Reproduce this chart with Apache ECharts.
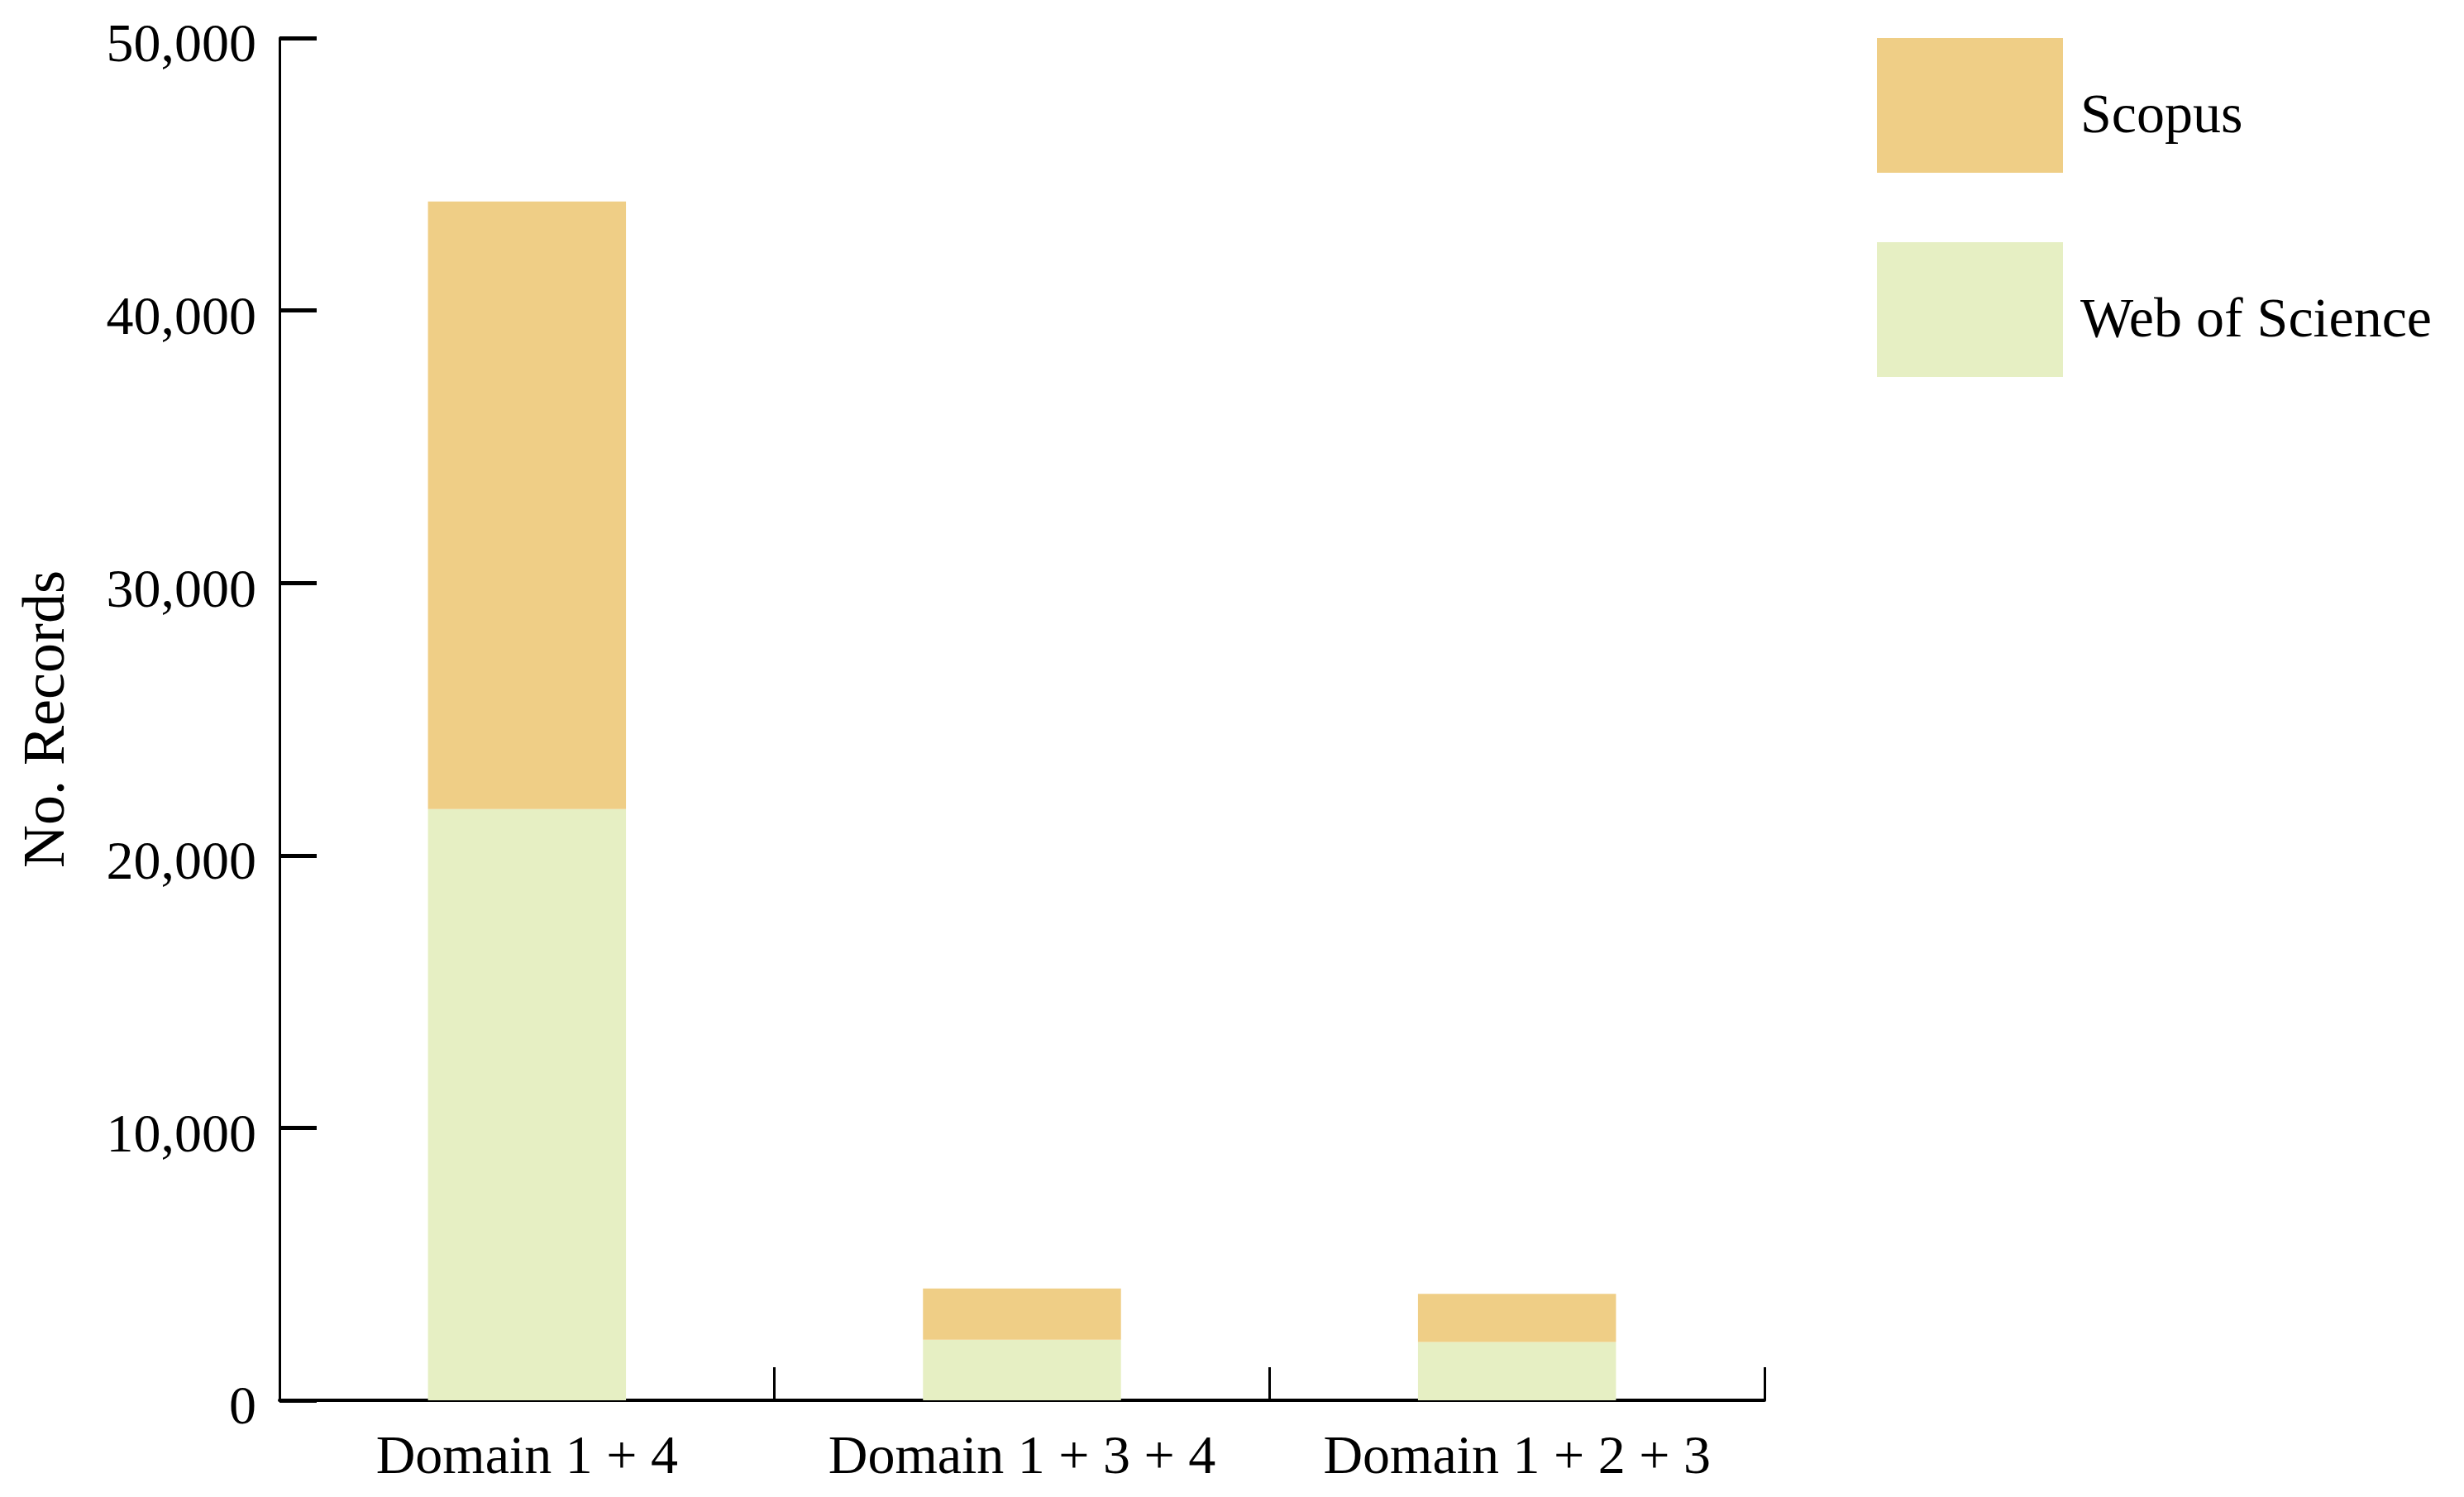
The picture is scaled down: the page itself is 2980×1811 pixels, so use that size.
<!DOCTYPE html>
<html>
<head>
<meta charset="utf-8">
<script src="https://cdn.jsdelivr.net/npm/echarts@6/dist/echarts.min.js"></script>
<style>
html,body{margin:0;padding:0;background:#fff;}
#chart{width:2980px;height:1811px;}
</style>
</head>
<body>
<div id="chart"></div>
<script>
const categories = ['Domain 1 + 4', 'Domain 1 + 3 + 4', 'Domain 1 + 2 + 3'];
const webOfScience = [21700, 2220, 2140];
const scopus = [22300, 1880, 1770];
const yTicks = [0, 10000, 20000, 30000, 40000, 50000];
const seriesNames = ['Scopus', 'Web of Science'];

const FONT = '"Liberation Serif", "DejaVu Serif", serif';
const chart = echarts.init(document.getElementById('chart'), null, {renderer: 'canvas'});
chart.setOption({
  backgroundColor: '#ffffff',
  animation: false,
  grid: {left: 338, right: 846, top: 46, bottom: 117, containLabel: false},
  legend: {
    data: seriesNames,
    orient: 'vertical',
    left: 2265,
    top: 41,
    icon: 'rect',
    itemWidth: 225,
    itemHeight: 163,
    itemGap: 84,
    formatter: name => '{t|' + name + '}',
    textStyle: {
      fontFamily: FONT, fontSize: 68, color: '#000',
      rich: {t: {fontFamily: FONT, fontSize: 68, color: '#000', padding: [30, 0, 0, 16]}}
    },
    selectedMode: false
  },
  xAxis: {
    type: 'category',
    data: categories,
    axisLine: {lineStyle: {color: '#000', width: 4}},
    axisTick: {show: true, inside: true, length: 40, interval: 0, lineStyle: {color: '#000', width: 3}},
    axisLabel: {fontFamily: FONT, fontSize: 66, color: '#000', margin: 38, interval: 0, hideOverlap: false},
    splitLine: {show: false}
  },
  yAxis: {
    type: 'value',
    min: 0,
    max: 50000,
    interval: 10000,
    name: 'No. Records',
    nameLocation: 'middle',
    nameRotate: 90,
    nameGap: 244,
    nameTextStyle: {fontFamily: FONT, fontSize: 72, color: '#000'},
    axisLine: {show: true, lineStyle: {color: '#000', width: 3}},
    axisTick: {show: true, inside: true, length: 45, lineStyle: {color: '#000', width: 5}},
    axisLabel: {
      fontFamily: FONT, fontSize: 66, color: '#000', margin: 28,
      formatter: v => yTicks.includes(v) ? '{n|' + v.toLocaleString('en-US') + '}' : '',
      rich: {n: {fontFamily: FONT, fontSize: 66, color: '#000', padding: [22, 0, 0, 0]}}
    },
    splitLine: {show: false}
  },
  series: [
    {
      name: 'Web of Science',
      type: 'bar',
      stack: 'total',
      data: webOfScience,
      barWidth: '40%',
      itemStyle: {color: '#E6EFC3'}
    },
    {
      name: 'Scopus',
      type: 'bar',
      stack: 'total',
      data: scopus,
      barWidth: '40%',
      itemStyle: {color: '#EFCE86'}
    }
  ]
});
</script>
</body>
</html>
